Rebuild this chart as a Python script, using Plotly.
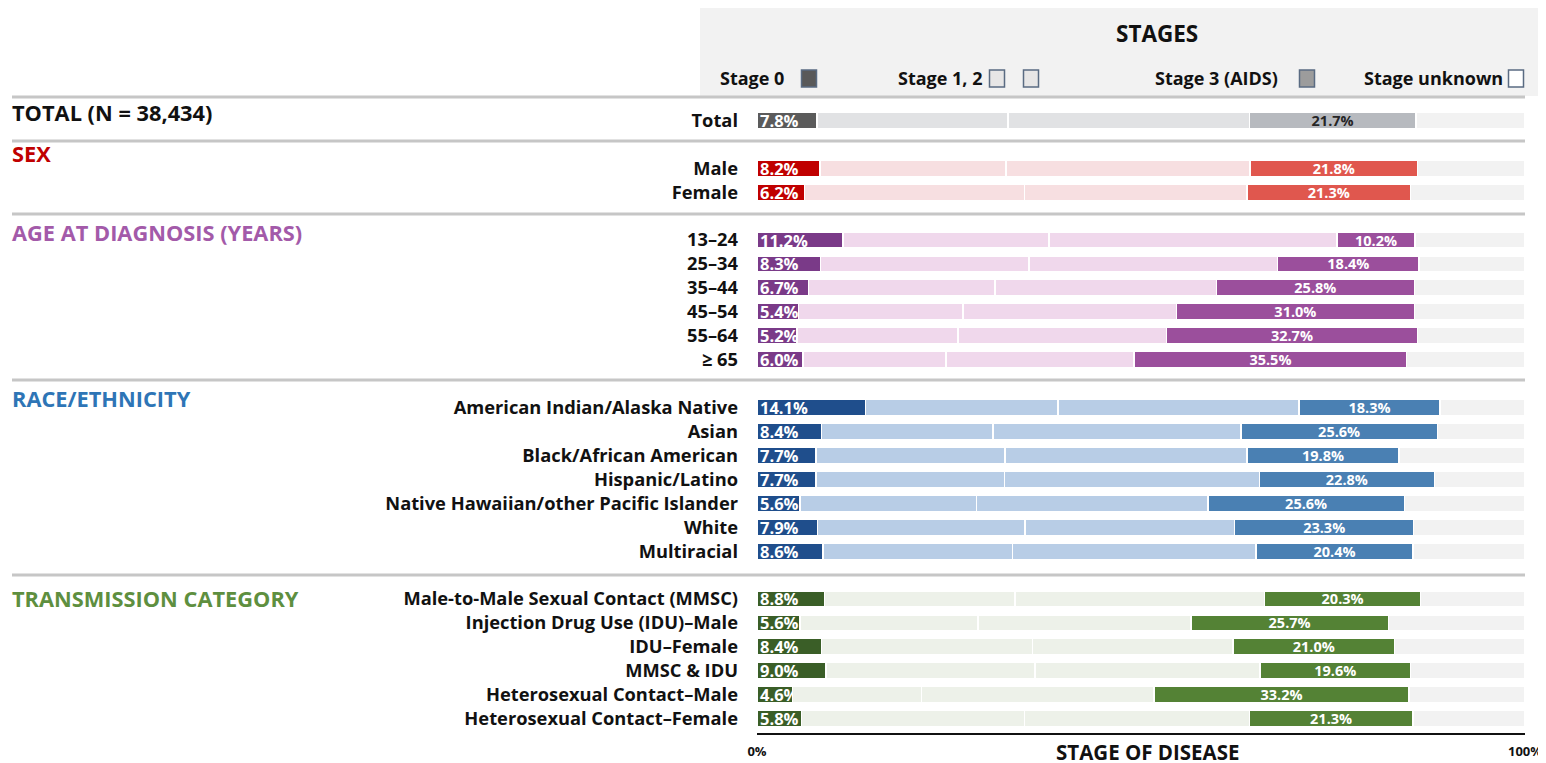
import plotly.graph_objects as go

# ---------------- data ----------------
group_titles = ["TOTAL (N = 38,434)", "SEX", "AGE AT DIAGNOSIS (YEARS)",
                "RACE/ETHNICITY", "TRANSMISSION CATEGORY"]
group_rows = [
    ["Total"],
    ["Male", "Female"],
    ["13–24", "25–34", "35–44", "45–54", "55–64", "≥ 65"],
    ["American Indian/Alaska Native", "Asian", "Black/African American",
     "Hispanic/Latino", "Native Hawaiian/other Pacific Islander", "White",
     "Multiracial"],
    ["Male-to-Male Sexual Contact (MMSC)", "Injection Drug Use (IDU)–Male",
     "IDU–Female", "MMSC & IDU", "Heterosexual Contact–Male",
     "Heterosexual Contact–Female"],
]
stage0 = [
    [7.8],
    [8.2, 6.2],
    [11.2, 8.3, 6.7, 5.4, 5.2, 6.0],
    [14.1, 8.4, 7.7, 7.7, 5.6, 7.9, 8.6],
    [8.8, 5.6, 8.4, 9.0, 4.6, 5.8],
]
stage1 = [
    [24.9],
    [24.2, 28.6],
    [26.8, 27.1, 24.3, 21.4, 21.0, 18.6],
    [25.1, 22.3, 24.6, 24.5, 23.0, 27.0, 24.7],
    [24.8, 23.2, 27.5, 27.2, 16.8, 29.0],
]
stage2 = [
    [31.4],
    [31.8, 29.0],
    [37.5, 32.4, 28.8, 27.8, 27.1, 24.5],
    [31.4, 32.3, 31.5, 33.2, 30.1, 27.3, 31.7],
    [32.5, 27.7, 26.1, 29.3, 30.3, 29.3],
]
stage3 = [
    [21.7],
    [21.8, 21.3],
    [10.2, 18.4, 25.8, 31.0, 32.7, 35.5],
    [18.3, 25.6, 19.8, 22.8, 25.6, 23.3, 20.4],
    [20.3, 25.7, 21.0, 19.6, 33.2, 21.3],
]
stage_unknown = [
    [14.2],
    [14.0, 14.9],
    [14.3, 13.8, 14.4, 14.4, 14.0, 15.4],
    [11.1, 11.4, 16.4, 11.8, 15.7, 14.5, 14.6],
    [13.6, 17.8, 17.0, 14.9, 15.1, 14.6],
]
stage_names = ["Stage 0", "Stage 1", "Stage 2", "Stage 3 (AIDS)", "Stage unknown"]
x_tick_vals = [0, 100]
x_tick_text = ["0%", "100%"]

# ---------------- styles ----------------
FONT = "Open Sans"
title_colors = ["#111111", "#c00000", "#a35aa9", "#2e75b6", "#5e8f3f"]
col_s0 = ["#5b5b5b", "#c00000", "#7a3a88", "#1f4e8c", "#3a5e27"]
col_s12 = ["#e1e2e4", "#f7dfe1", "#f0d8ec", "#b8cde6", "#edf1e9"]
col_s3 = ["#b7babf", "#e0574e", "#9b4f9c", "#4a80b3", "#548235"]
col_unk = "#f2f2f2"
s3_text_col = ["#262626", "white", "white", "white", "white"]

# flatten with slot positions (one empty slot between groups)
labels, ypos, c0, c12, c3, t3 = [], [], [], [], [], []
v0, v1, v2, v3, vu = [], [], [], [], []
pos = 0
for g, rows in enumerate(group_rows):
    for i, r in enumerate(rows):
        labels.append(r)
        ypos.append(pos)
        c0.append(col_s0[g]); c12.append(col_s12[g]); c3.append(col_s3[g])
        t3.append(s3_text_col[g])
        v0.append(stage0[g][i]); v1.append(stage1[g][i]); v2.append(stage2[g][i])
        v3.append(stage3[g][i]); vu.append(stage_unknown[g][i])
        pos += 1
    pos += 1

OFF = 8  # page offset of the rendered figure
W, H = 1546, 763
ML = 757 - OFF
MT = 106 - OFF
PW = 1525 - 757
PH = 733 - 106
MR = W - ML - PW
MB = H - MT - PH


def px2x(px):
    return (px - OFF - ML) / PW


def px2y(py):
    return (MT + PH - (py - OFF)) / PH


bw = 0.68
line = dict(color="white", width=1.5)
fig = go.Figure()
fig.add_trace(go.Bar(
    y=ypos, x=v0, orientation="h", name=stage_names[0], width=bw,
    marker=dict(color=c0, line=line),
    texttemplate="%{x:.1f}%", textposition="inside", insidetextanchor="start",
    constraintext="none",
    textfont=dict(family=FONT, size=16.5, color="white", weight="bold"),
    hoverinfo="skip"))
fig.add_trace(go.Bar(
    y=ypos, x=v1, orientation="h", name=stage_names[1], width=bw,
    marker=dict(color=c12, line=line), hoverinfo="skip"))
fig.add_trace(go.Bar(
    y=ypos, x=v2, orientation="h", name=stage_names[2], width=bw,
    marker=dict(color=c12, line=line), hoverinfo="skip"))
fig.add_trace(go.Bar(
    y=ypos, x=v3, orientation="h", name=stage_names[3], width=bw,
    marker=dict(color=c3, line=line),
    texttemplate="%{x:.1f}%", textposition="inside", insidetextanchor="middle",
    constraintext="none",
    textfont=dict(family=FONT, size=14.5, color=t3, weight="bold"),
    hoverinfo="skip"))
fig.add_trace(go.Bar(
    y=ypos, x=vu, orientation="h", name=stage_names[4], width=bw,
    marker=dict(color=col_unk, line=line), hoverinfo="skip"))

shapes = []
# legend panel
shapes.append(dict(type="rect", xref="paper", yref="paper",
                   x0=px2x(700), x1=px2x(1560), y0=px2y(96), y1=px2y(8),
                   fillcolor="#f2f2f2", line=dict(width=0), layer="below"))
# separator lines
for py in [97, 141, 214, 380, 575]:
    shapes.append(dict(type="line", xref="paper", yref="paper",
                       x0=px2x(12), x1=px2x(1525), y0=px2y(py), y1=px2y(py),
                       line=dict(color="#c6c6c6", width=3)))
# legend squares
sq = [(809, "#595959"), (997, "#e7e6e6"), (1031, "#e7e6e6"),
      (1307, "#9c9c9c"), (1516, "#ffffff")]
for cx, fc in sq:
    shapes.append(dict(type="rect", xref="paper", yref="paper",
                       x0=px2x(cx - 7.5), x1=px2x(cx + 7.5),
                       y0=px2y(87), y1=px2y(70),
                       fillcolor=fc, line=dict(color="#5a6b82", width=1.5)))

annotations = []
annotations.append(dict(text="STAGES", xref="paper", yref="paper",
                        x=px2x(1157), y=px2y(33), xanchor="center", yanchor="middle",
                        showarrow=False,
                        font=dict(family=FONT, size=22.5, color="#111111", weight="bold")))
leg_texts = [("Stage 0", 786), ("Stage 1, 2", 984), ("Stage 3 (AIDS)", 1280),
             ("Stage unknown", 1505)]
for t, xr in leg_texts:
    annotations.append(dict(text=t, xref="paper", yref="paper", x=px2x(xr),
                            y=px2y(78), xanchor="right", yanchor="middle",
                            showarrow=False,
                            font=dict(family=FONT, size=18, color="#111111", weight="bold")))
title_py = [113, 154, 232, 398, 598]
for t, c, py in zip(group_titles, title_colors, title_py):
    annotations.append(dict(text=t, xref="paper", yref="paper", x=px2x(10),
                            y=px2y(py), xanchor="left", yanchor="middle",
                            showarrow=False,
                            font=dict(family=FONT, size=21.8, color=c, weight="bold")))
annotations.append(dict(text="STAGE OF DISEASE", xref="paper", yref="paper",
                        x=px2x(1148), y=px2y(752), xanchor="center", yanchor="middle",
                        showarrow=False,
                        font=dict(family=FONT, size=20.5, color="#111111", weight="bold")))

fig.update_layout(
    width=W, height=H, barmode="stack", showlegend=False,
    margin=dict(l=ML, r=MR, t=MT, b=MB),
    paper_bgcolor="white", plot_bgcolor="white",
    shapes=shapes, annotations=annotations,
    xaxis=dict(range=[0, 100], showgrid=False, zeroline=False,
               showline=True, linecolor="#111111", linewidth=2,
               ticks="inside", ticklen=7, tickwidth=2, tickcolor="#111111",
               tickvals=x_tick_vals, ticktext=x_tick_text,
               ticklabelstandoff=5,
               tickfont=dict(family=FONT, size=13, color="#111111", weight="bold")),
    yaxis=dict(range=[25.6, -0.6], showgrid=False, zeroline=False,
               tickvals=ypos, ticktext=labels, ticks="",
               ticklabelstandoff=18,
               tickfont=dict(family=FONT, size=18.3, color="#111111", weight="bold")),
)
fig.write_html("out.html")
